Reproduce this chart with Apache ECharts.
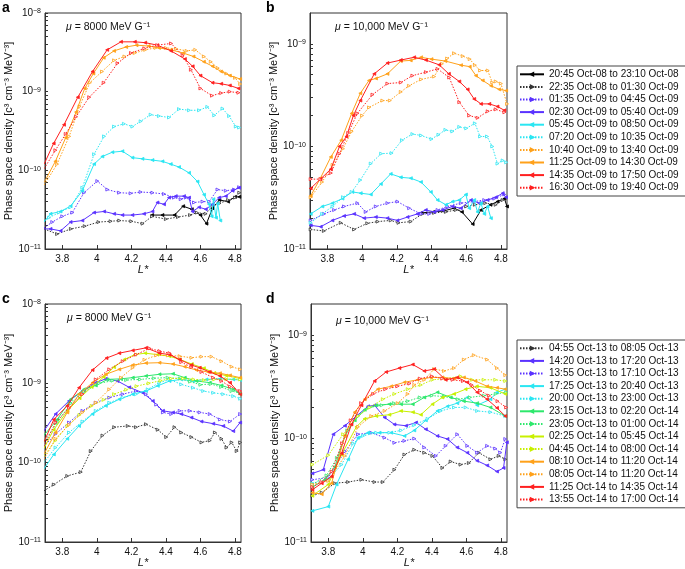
<!DOCTYPE html>
<html><head><meta charset="utf-8">
<script src="https://cdn.jsdelivr.net/npm/echarts@6/dist/echarts.min.js"></script>
<style>html,body{margin:0;padding:0;background:#fff}#c{width:685px;height:569px}</style>
</head><body><div id="c"></div>
<script>
// ---------------- Legend names ----------------
const TOP_NAMES = [
  '20:45 Oct-08 to 23:10 Oct-08','22:35 Oct-08 to 01:30 Oct-09','01:35 Oct-09 to 04:45 Oct-09',
  '02:30 Oct-09 to 05:40 Oct-09','05:45 Oct-09 to 08:50 Oct-09','07:20 Oct-09 to 10:35 Oct-09',
  '10:40 Oct-09 to 13:40 Oct-09','11:25 Oct-09 to 14:30 Oct-09','14:35 Oct-09 to 17:50 Oct-09',
  '16:30 Oct-09 to 19:40 Oct-09'];
const BOTTOM_NAMES = [
  '04:55 Oct-13 to 08:05 Oct-13','14:20 Oct-13 to 17:20 Oct-13','13:55 Oct-13 to 17:10 Oct-13',
  '17:25 Oct-13 to 20:40 Oct-13','20:00 Oct-13 to 23:00 Oct-13','23:15 Oct-13 to 02:20 Oct-14',
  '23:05 Oct-13 to 01:00 Oct-14','02:25 Oct-14 to 05:45 Oct-14','04:45 Oct-14 to 08:00 Oct-14',
  '08:10 Oct-14 to 11:20 Oct-14','08:05 Oct-14 to 11:20 Oct-14','11:25 Oct-14 to 14:35 Oct-14',
  '13:55 Oct-14 to 17:00 Oct-14'];

// ---------------- Axis tick values ----------------
const X_TICKS = [3.8, 4.0, 4.2, 4.4, 4.6, 4.8];

// ---------------- Panel a (mu = 8000, Oct 8-9) ----------------
const A_BLACK_SOLID = [[4.32,2.7e-11],[4.38,2.7e-11],[4.45,2.7e-11],[4.50,3.5e-11],[4.55,3.2e-11],[4.60,2.7e-11],[4.635,2.1e-11],[4.67,3.3e-11],[4.71,4.2e-11],[4.76,4.0e-11],[4.80,4.6e-11],[4.825,4.6e-11]];
const A_BLACK_DOT = [[3.695,1.8e-11],[3.77,1.55e-11],[3.85,1.8e-11],[3.93,1.95e-11],[4.01,2.2e-11],[4.08,2.25e-11],[4.13,2.3e-11],[4.20,2.25e-11],[4.265,2.1e-11],[4.32,2.6e-11],[4.40,2.4e-11],[4.47,2.55e-11],[4.54,2.7e-11],[4.58,2.9e-11],[4.63,2.8e-11],[4.67,3.5e-11],[4.71,3.8e-11],[4.76,4.2e-11],[4.80,4.5e-11],[4.825,5.2e-11]];
const A_BLUE_DOT = [[3.694,1.85e-11],[3.742,2.2e-11],[3.80,2.6e-11],[3.858,2.9e-11],[3.926,5.2e-11],[4.003,7.3e-11],[4.061,5.7e-11],[4.129,5.2e-11],[4.196,5.1e-11],[4.254,5.3e-11],[4.322,5.2e-11],[4.389,5.0e-11],[4.447,4.5e-11],[4.486,4.3e-11],[4.515,4.5e-11],[4.563,3.9e-11],[4.612,4.0e-11],[4.65,4.0e-11],[4.699,5.7e-11],[4.747,5.5e-11],[4.795,5.7e-11],[4.824,6.1e-11]];
const A_BLUE_SOLID = [[3.694,1.8e-11],[3.732,1.8e-11],[3.79,1.7e-11],[3.848,2.2e-11],[3.916,2.3e-11],[3.984,2.9e-11],[4.042,3.0e-11],[4.10,2.8e-11],[4.148,2.7e-11],[4.206,2.7e-11],[4.273,2.8e-11],[4.322,3.0e-11],[4.351,3.9e-11],[4.389,3.7e-11],[4.418,4.5e-11],[4.457,4.7e-11],[4.505,4.7e-11],[4.534,4.5e-11],[4.554,3.0e-11],[4.592,3.4e-11],[4.631,3.2e-11],[4.67,3.7e-11],[4.708,4.5e-11],[4.747,4.7e-11],[4.786,5.5e-11],[4.824,6.0e-11]];
const A_CYAN_SOLID = [[3.694,2.2e-11],[3.732,2.8e-11],[3.79,3.0e-11],[3.848,3.5e-11],[3.916,5.5e-11],[3.984,1.2e-10],[4.032,1.5e-10],[4.09,1.7e-10],[4.148,1.75e-10],[4.206,1.45e-10],[4.264,1.4e-10],[4.322,1.35e-10],[4.38,1.3e-10],[4.428,1.2e-10],[4.476,1.1e-10],[4.534,9.3e-11],[4.583,7.2e-11],[4.621,4.9e-11],[4.65,3.7e-11],[4.665,2.6e-11],[4.675,4.3e-11],[4.69,2.5e-11],[4.70,3.8e-11],[4.715,2.3e-11]];
const A_CYAN_DOT = [[3.694,2.3e-11],[3.723,2.5e-11],[3.78,2.9e-11],[3.848,3.4e-11],[3.916,6.0e-11],[3.984,1.6e-10],[4.042,2.7e-10],[4.10,3.6e-10],[4.157,3.9e-10],[4.206,3.6e-10],[4.254,4.2e-10],[4.312,5.1e-10],[4.36,4.9e-10],[4.418,4.7e-10],[4.476,6.0e-10],[4.534,5.8e-10],[4.592,5.8e-10],[4.64,6.4e-10],[4.68,5.0e-10],[4.728,6.1e-10],[4.766,4.9e-10],[4.805,3.6e-10],[4.824,3.5e-10]];
const A_ORANGE_DOT = [[3.695,6.5e-11],[3.77,1.2e-10],[3.84,2.7e-10],[3.90,6.5e-10],[3.96,1.3e-9],[4.03,1.8e-9],[4.10,2.5e-9],[4.16,2.8e-9],[4.22,3.1e-9],[4.28,3.4e-9],[4.34,3.6e-9],[4.40,3.6e-9],[4.46,3.5e-9],[4.52,3.3e-9],[4.57,3.4e-9],[4.62,2.8e-9],[4.66,2.4e-9],[4.70,2.0e-9],[4.75,1.7e-9],[4.80,1.5e-9],[4.83,1.25e-9]];
const A_ORANGE_SOLID = [[3.695,7.0e-11],[3.76,1.3e-10],[3.82,2.6e-10],[3.88,5.5e-10],[3.93,1.1e-9],[3.98,1.7e-9],[4.04,2.7e-9],[4.10,3.3e-9],[4.17,3.7e-9],[4.23,3.9e-9],[4.30,3.8e-9],[4.36,3.6e-9],[4.43,3.4e-9],[4.50,3.1e-9],[4.56,2.8e-9],[4.62,2.4e-9],[4.67,2.1e-9],[4.72,1.8e-9],[4.77,1.6e-9],[4.83,1.45e-9]];
const A_RED_SOLID = [[3.695,1.2e-10],[3.75,2.2e-10],[3.81,3.8e-10],[3.89,8.5e-10],[3.975,1.8e-9],[4.06,3.4e-9],[4.14,4.3e-9],[4.22,4.3e-9],[4.28,4.2e-9],[4.35,3.9e-9],[4.43,3.3e-9],[4.51,2.6e-9],[4.555,2.1e-9],[4.60,1.6e-9],[4.67,1.3e-9],[4.72,1.26e-9],[4.77,1.2e-9],[4.82,1.1e-9]];
const A_RED_DOT = [[3.695,1.05e-10],[3.76,1.8e-10],[3.82,2.9e-10],[3.88,4.8e-10],[3.956,8.5e-10],[4.04,1.3e-9],[4.12,2.3e-9],[4.198,3.1e-9],[4.275,3.55e-9],[4.35,3.9e-9],[4.43,4.1e-9],[4.497,2.9e-9],[4.545,1.9e-9],[4.60,1.1e-9],[4.667,8.9e-10],[4.72,9.6e-10],[4.77,1.0e-9],[4.82,9.7e-10]];

// ---------------- Panel b (mu = 10,000, Oct 8-9) ----------------
const B_BLACK_SOLID = [[4.34,2.25e-11],[4.41,2.3e-11],[4.47,2.35e-11],[4.53,2.5e-11],[4.575,2.3e-11],[4.637,1.75e-11],[4.685,2.4e-11],[4.74,2.7e-11],[4.78,2.9e-11],[4.82,3.1e-11],[4.835,2.6e-11]];
const B_BLACK_DOT = [[3.704,1.55e-11],[3.78,1.5e-11],[3.877,1.8e-11],[3.954,1.55e-11],[4.03,1.78e-11],[4.09,1.85e-11],[4.165,1.9e-11],[4.21,1.8e-11],[4.28,1.85e-11],[4.348,2.2e-11],[4.415,2.25e-11],[4.483,2.3e-11],[4.54,2.4e-11],[4.60,2.6e-11],[4.65,2.7e-11],[4.71,2.8e-11],[4.77,2.7e-11],[4.81,3.0e-11]];
const B_BLUE_DOT = [[3.704,1.9e-11],[3.781,2.2e-11],[3.839,2.4e-11],[3.896,2.6e-11],[3.973,2.8e-11],[4.021,2.3e-11],[4.079,2.6e-11],[4.146,2.8e-11],[4.204,2.9e-11],[4.271,2.5e-11],[4.339,2.2e-11],[4.387,2.2e-11],[4.435,2.4e-11],[4.492,2.6e-11],[4.569,2.8e-11],[4.646,2.9e-11],[4.704,3.0e-11],[4.762,3.1e-11],[4.819,3.4e-11]];
const B_BLUE_SOLID = [[3.704,1.7e-11],[3.762,1.65e-11],[3.829,1.9e-11],[3.896,2.1e-11],[3.954,2.2e-11],[4.012,2.0e-11],[4.079,2.05e-11],[4.146,2.0e-11],[4.204,1.9e-11],[4.262,2.05e-11],[4.319,2.2e-11],[4.367,2.4e-11],[4.416,2.3e-11],[4.464,2.4e-11],[4.521,2.6e-11],[4.569,2.5e-11],[4.627,3.0e-11],[4.675,2.8e-11],[4.723,3.0e-11],[4.771,3.2e-11],[4.81,3.5e-11],[4.829,3.2e-11]];
const B_CYAN_SOLID = [[3.704,2.2e-11],[3.771,2.6e-11],[3.829,2.8e-11],[3.887,3.1e-11],[3.944,3.6e-11],[3.992,3.5e-11],[4.05,3.4e-11],[4.108,4.3e-11],[4.165,5.4e-11],[4.223,5.0e-11],[4.281,4.9e-11],[4.339,4.5e-11],[4.396,3.6e-11],[4.435,3.0e-11],[4.483,2.7e-11],[4.521,2.9e-11],[4.56,3.0e-11],[4.598,3.4e-11],[4.617,2.5e-11],[4.646,3.0e-11],[4.665,2.3e-11],[4.685,2.8e-11],[4.704,2.2e-11],[4.723,2.6e-11],[4.742,2.0e-11]];
const B_CYAN_DOT = [[3.704,1.8e-11],[3.77,2.2e-11],[3.83,2.6e-11],[3.89,3.2e-11],[3.94,3.6e-11],[3.99,4.7e-11],[4.05,6.8e-11],[4.11,8.5e-11],[4.17,8.6e-11],[4.23,1.15e-10],[4.29,1.32e-10],[4.34,1.28e-10],[4.40,1.18e-10],[4.44,1.3e-10],[4.48,1.45e-10],[4.52,1.4e-10],[4.56,1.55e-10],[4.60,1.5e-10],[4.65,1.68e-10],[4.68,1.25e-10],[4.72,1.25e-10],[4.75,1.0e-10],[4.78,6.8e-11],[4.81,7.3e-11],[4.83,7.0e-11]];
const B_ORANGE_DOT = [[3.704,3.2e-11],[3.77,4.5e-11],[3.83,6.6e-11],[3.89,9.5e-11],[3.94,1.4e-10],[4.0,2.0e-10],[4.04,2.4e-10],[4.117,2.8e-10],[4.16,2.8e-10],[4.223,3.4e-10],[4.27,3.9e-10],[4.34,4.5e-10],[4.415,4.8e-10],[4.46,6.4e-10],[4.49,7.2e-10],[4.53,8.1e-10],[4.58,7.6e-10],[4.62,7.1e-10],[4.65,6.2e-10],[4.68,5.5e-10],[4.724,5.5e-10],[4.75,4.2e-10],[4.77,4.3e-10],[4.80,4.1e-10],[4.835,2.6e-10]];
const B_ORANGE_SOLID = [[3.704,3.3e-11],[3.76,4.9e-11],[3.82,7.9e-11],[3.88,1.15e-10],[3.94,2.1e-10],[3.99,3.3e-10],[4.04,4.4e-10],[4.08,4.6e-10],[4.146,5.1e-10],[4.223,6.8e-10],[4.28,6.9e-10],[4.34,7.4e-10],[4.40,7.1e-10],[4.48,6.8e-10],[4.57,6.2e-10],[4.62,6.0e-10],[4.656,4.9e-10],[4.695,4.4e-10],[4.743,3.9e-10],[4.79,3.6e-10],[4.83,3.5e-10]];
const B_RED_SOLID = [[3.704,3.9e-11],[3.76,4.8e-11],[3.82,6.0e-11],[3.87,1.0e-10],[3.91,1.25e-10],[3.95,2.0e-10],[3.99,2.8e-10],[4.07,5.1e-10],[4.146,6.5e-10],[4.223,6.95e-10],[4.30,7.4e-10],[4.368,6.95e-10],[4.444,6.25e-10],[4.50,5.1e-10],[4.56,4.3e-10],[4.608,3.6e-10],[4.646,2.9e-10],[4.685,2.6e-10],[4.733,2.6e-10],[4.78,2.45e-10],[4.82,2.25e-10]];
const B_RED_DOT = [[3.704,4.8e-11],[3.76,4.8e-11],[3.82,5.5e-11],[3.87,8.5e-11],[3.92,1.35e-10],[3.973,2.1e-10],[4.06,3.2e-10],[4.146,4.1e-10],[4.223,4.2e-10],[4.29,4.9e-10],[4.368,5.3e-10],[4.435,5.7e-10],[4.502,4.7e-10],[4.56,2.7e-10],[4.617,2.0e-10],[4.666,1.9e-10],[4.724,2.2e-10],[4.77,2.3e-10],[4.82,2.15e-10]];

// ---------------- Panel c (mu = 8000, Oct 13-14) ----------------
const C_BLACK_DOT = [[3.693,4.4e-11],[3.751,5.3e-11],[3.829,6.8e-11],[3.907,7.6e-11],[3.965,1.4e-10],[4.033,2.2e-10],[4.101,2.8e-10],[4.179,2.9e-10],[4.227,2.8e-10],[4.285,3.05e-10],[4.353,2.6e-10],[4.402,2.1e-10],[4.45,2.8e-10],[4.489,2.4e-10],[4.548,2.1e-10],[4.606,1.8e-10],[4.654,1.9e-10],[4.684,2.4e-10],[4.722,2.0e-10],[4.751,1.55e-10],[4.781,1.8e-10],[4.81,1.4e-10],[4.83,1.8e-10]];
const C_BLUE_SOLID = [[3.693,2.5e-10],[3.761,4.1e-10],[3.839,6.0e-10],[3.917,8.0e-10],[3.994,1.02e-9],[4.052,1.14e-9],[4.12,1.07e-9],[4.188,8.9e-10],[4.266,7.6e-10],[4.324,6.0e-10],[4.383,4.5e-10],[4.441,4.3e-10],[4.489,4.1e-10],[4.548,3.7e-10],[4.606,3.3e-10],[4.674,3.1e-10],[4.732,2.9e-10],[4.79,2.5e-10],[4.83,3.2e-10]];
const C_BLUE_DOT = [[3.693,1.6e-10],[3.761,2.3e-10],[3.839,3.2e-10],[3.917,4.5e-10],[3.994,5.7e-10],[4.072,6.6e-10],[4.15,7.3e-10],[4.227,8.0e-10],[4.285,7.3e-10],[4.344,5.4e-10],[4.383,4.3e-10],[4.431,4.1e-10],[4.48,4.5e-10],[4.538,4.5e-10],[4.596,4.3e-10],[4.654,4.1e-10],[4.713,3.5e-10],[4.771,3.3e-10],[4.83,4.1e-10]];
const C_CYAN_SOLID = [[3.693,8.3e-11],[3.751,1.27e-10],[3.829,2.0e-10],[3.897,2.9e-10],[3.975,4.1e-10],[4.052,5.2e-10],[4.13,6.3e-10],[4.208,7.3e-10],[4.285,8.0e-10],[4.353,9.3e-10],[4.421,1.07e-9],[4.489,1.12e-9],[4.557,1.07e-9],[4.635,1.12e-9],[4.713,1.14e-9],[4.79,1.12e-9],[4.83,1.1e-9]];
const C_CYAN_DOT = [[3.693,1.0e-10],[3.761,1.55e-10],[3.839,2.4e-10],[3.917,3.3e-10],[3.994,4.5e-10],[4.072,5.7e-10],[4.15,6.6e-10],[4.227,7.3e-10],[4.295,8.4e-10],[4.363,1.02e-9],[4.421,1.12e-9],[4.489,9.7e-10],[4.557,8.8e-10],[4.616,8.0e-10],[4.674,7.6e-10],[4.732,7.3e-10],[4.79,6.9e-10],[4.83,6.4e-10]];
const C_GREEN_SOLID = [[3.693,2.2e-10],[3.771,3.5e-10],[3.849,6.3e-10],[3.926,8.4e-10],[3.994,9.4e-10],[4.062,1.12e-9],[4.14,1.14e-9],[4.208,1.18e-9],[4.285,1.24e-9],[4.363,1.3e-9],[4.441,1.32e-9],[4.509,1.18e-9],[4.577,1.07e-9],[4.654,1.02e-9],[4.722,9.4e-10],[4.79,8.4e-10],[4.83,7.3e-10]];
const C_GREEN_DOT = [[3.693,1.8e-10],[3.771,3.2e-10],[3.849,5.6e-10],[3.926,7.8e-10],[4.014,1.0e-9],[4.091,1.08e-9],[4.17,1.1e-9],[4.25,1.12e-9],[4.33,1.16e-9],[4.41,1.18e-9],[4.48,1.15e-9],[4.54,1.05e-9],[4.60,9.6e-10],[4.66,9.8e-10],[4.72,9.0e-10],[4.78,8.0e-10],[4.83,7.5e-10]];
const C_YELLOW_SOLID = [[3.693,1.5e-10],[3.75,2.6e-10],[3.83,4.5e-10],[3.90,6.5e-10],[3.97,9.0e-10],[4.04,1.2e-9],[4.10,1.6e-9],[4.16,2.0e-9],[4.22,2.3e-9],[4.28,2.4e-9],[4.35,2.3e-9],[4.42,2.2e-9],[4.48,2.0e-9],[4.55,1.75e-9],[4.62,1.55e-9],[4.68,1.35e-9],[4.75,1.25e-9],[4.83,1.15e-9]];
const C_YELLOW_DOT = [[3.693,1.2e-10],[3.76,1.9e-10],[3.83,2.9e-10],[3.90,4.0e-10],[3.97,5.2e-10],[4.04,6.2e-10],[4.10,7.3e-10],[4.17,8.3e-10],[4.23,9.2e-10],[4.30,1.0e-9],[4.37,1.08e-9],[4.43,1.15e-9],[4.50,1.15e-9],[4.56,1.12e-9],[4.62,1.1e-9],[4.68,1.12e-9],[4.75,1.13e-9],[4.83,1.12e-9]];
const C_ORANGE_SOLID = [[3.693,1.27e-10],[3.761,2.4e-10],[3.829,4.3e-10],[3.897,7.3e-10],[3.975,1.02e-9],[4.052,1.3e-9],[4.13,1.5e-9],[4.208,1.7e-9],[4.285,1.8e-9],[4.363,1.82e-9],[4.441,1.75e-9],[4.509,1.62e-9],[4.577,1.47e-9],[4.645,1.39e-9],[4.713,1.34e-9],[4.771,1.26e-9],[4.83,1.18e-9]];
const C_ORANGE_DOT = [[3.693,1.1e-10],[3.761,2.0e-10],[3.839,3.0e-10],[3.917,4.3e-10],[3.994,5.7e-10],[4.072,8.4e-10],[4.14,1.18e-9],[4.208,1.57e-9],[4.276,1.98e-9],[4.344,2.25e-9],[4.412,2.25e-9],[4.48,2.2e-9],[4.548,2.1e-9],[4.606,2.17e-9],[4.664,2.17e-9],[4.722,1.9e-9],[4.781,1.62e-9],[4.83,1.5e-9]];
const C_RED_SOLID = [[3.693,1.8e-10],[3.751,3.5e-10],[3.829,5.2e-10],[3.897,8.8e-10],[3.975,1.47e-9],[4.056,2.08e-9],[4.13,2.4e-9],[4.208,2.6e-9],[4.285,2.8e-9],[4.363,2.4e-9],[4.421,2.3e-9],[4.48,2.0e-9],[4.548,1.7e-9],[4.596,1.57e-9],[4.654,1.39e-9],[4.713,1.24e-9],[4.771,1.02e-9],[4.83,7.3e-10]];
const C_RED_DOT = [[3.693,1.6e-10],[3.761,3.2e-10],[3.839,4.9e-10],[3.917,7.3e-10],[3.994,1.12e-9],[4.072,1.5e-9],[4.15,1.9e-9],[4.227,2.3e-9],[4.305,2.76e-9],[4.363,2.55e-9],[4.421,2.4e-9],[4.489,1.85e-9],[4.548,1.6e-9],[4.606,1.39e-9],[4.674,1.18e-9],[4.722,1.07e-9],[4.771,9.1e-10],[4.83,8.0e-10]];

// ---------------- Panel d (mu = 10,000, Oct 13-14) ----------------
const D_BLACK_DOT = [[3.708,2.8e-11],[3.762,3.0e-11],[3.838,3.7e-11],[3.915,3.8e-11],[3.992,4.0e-11],[4.068,3.8e-11],[4.116,3.8e-11],[4.183,5.0e-11],[4.241,7.0e-11],[4.298,7.8e-11],[4.356,7.3e-11],[4.403,6.8e-11],[4.461,5.2e-11],[4.509,6.0e-11],[4.566,5.6e-11],[4.614,5.8e-11],[4.672,7.3e-11],[4.739,6.3e-11],[4.787,6.8e-11],[4.825,6.3e-11]];
const D_BLUE_SOLID = [[3.708,4.6e-11],[3.771,5.0e-11],[3.829,1.1e-10],[3.896,1.33e-10],[3.963,1.65e-10],[4.03,2.05e-10],[4.068,2.1e-10],[4.126,1.6e-10],[4.183,1.37e-10],[4.25,1.33e-10],[4.308,1.43e-10],[4.365,1.23e-10],[4.432,1.06e-10],[4.49,9.9e-11],[4.547,8.2e-11],[4.605,7.3e-11],[4.662,6.1e-11],[4.72,5.5e-11],[4.777,4.8e-11],[4.815,5.2e-11],[4.834,9.2e-11]];
const D_BLUE_DOT = [[3.708,4.0e-11],[3.80,4.2e-11],[3.896,7.5e-11],[3.972,1.1e-10],[4.049,1.14e-10],[4.126,1.02e-10],[4.183,9.1e-11],[4.241,9.5e-11],[4.298,1.0e-10],[4.356,8.2e-11],[4.423,6.8e-11],[4.48,8.5e-11],[4.547,1.1e-10],[4.605,8.5e-11],[4.662,7.3e-11],[4.72,8.5e-11],[4.767,8.0e-11],[4.796,7.3e-11],[4.825,9.9e-11]];
const D_CYAN_SOLID = [[3.708,2.0e-11],[3.80,2.2e-11],[3.848,3.6e-11],[3.915,6.3e-11],[3.972,1.02e-10],[4.03,1.14e-10],[4.097,1.14e-10],[4.164,1.14e-10],[4.241,1.06e-10],[4.298,1.2e-10],[4.365,1.5e-10],[4.432,1.85e-10],[4.49,2.05e-10],[4.547,2.2e-10],[4.605,2.5e-10],[4.662,2.1e-10],[4.739,2.4e-10],[4.777,2.8e-10],[4.825,3.0e-10]];
const D_CYAN_DOT = [[3.708,3.7e-11],[3.80,4.0e-11],[3.877,5.6e-11],[3.944,9.0e-11],[4.001,1.06e-10],[4.078,1.14e-10],[4.154,1.14e-10],[4.221,1.2e-10],[4.298,1.35e-10],[4.375,1.55e-10],[4.451,1.85e-10],[4.528,2.0e-10],[4.595,2.0e-10],[4.662,1.85e-10],[4.739,1.8e-10],[4.825,1.65e-10]];
const D_GREEN_SOLID = [[3.708,3.4e-11],[3.781,4.0e-11],[3.838,5.3e-11],[3.896,1.06e-10],[3.953,1.5e-10],[4.011,1.9e-10],[4.078,2.1e-10],[4.154,2.15e-10],[4.221,2.15e-10],[4.289,2.15e-10],[4.356,2.5e-10],[4.432,2.8e-10],[4.509,2.5e-10],[4.585,2.3e-10],[4.662,2.2e-10],[4.739,2.0e-10],[4.825,1.65e-10]];
const D_GREEN_DOT = [[3.708,3.6e-11],[3.79,4.4e-11],[3.85,6.5e-11],[3.91,1.2e-10],[3.97,1.65e-10],[4.04,2.0e-10],[4.11,2.1e-10],[4.18,2.2e-10],[4.26,2.3e-10],[4.33,2.5e-10],[4.40,2.6e-10],[4.47,2.55e-10],[4.55,2.4e-10],[4.62,2.5e-10],[4.70,2.6e-10],[4.77,2.7e-10],[4.83,2.8e-10]];
const D_YELLOW_SOLID = [[3.708,2.8e-11],[3.80,3.6e-11],[3.877,7.0e-11],[3.963,1.3e-10],[4.01,1.55e-10],[4.078,1.65e-10],[4.154,1.7e-10],[4.221,1.85e-10],[4.29,1.8e-10],[4.336,1.7e-10],[4.403,2.15e-10],[4.461,2.5e-10],[4.528,2.7e-10],[4.595,3.0e-10],[4.66,3.2e-10],[4.739,3.1e-10],[4.825,2.7e-10]];
const D_YELLOW_DOT = [[3.708,5.6e-11],[3.80,6.9e-11],[3.886,1.1e-10],[3.972,1.65e-10],[4.039,2.0e-10],[4.116,2.4e-10],[4.183,2.7e-10],[4.26,3.0e-10],[4.336,3.3e-10],[4.403,3.7e-10],[4.48,3.8e-10],[4.566,4.0e-10],[4.633,3.7e-10],[4.70,3.7e-10],[4.767,3.7e-10],[4.825,3.6e-10]];
const D_ORANGE_SOLID = [[3.708,3.0e-11],[3.762,2.9e-11],[3.819,3.7e-11],[3.896,1.06e-10],[3.953,1.8e-10],[4.011,2.4e-10],[4.087,3.0e-10],[4.164,3.2e-10],[4.241,3.5e-10],[4.317,3.7e-10],[4.394,3.9e-10],[4.461,3.9e-10],[4.528,3.8e-10],[4.585,3.9e-10],[4.652,3.6e-10],[4.72,3.2e-10],[4.777,3.1e-10],[4.825,3.0e-10]];
const D_ORANGE_DOT = [[3.708,3.6e-11],[3.80,3.9e-11],[3.896,6.8e-11],[3.972,1.3e-10],[4.049,1.65e-10],[4.126,1.85e-10],[4.202,2.2e-10],[4.26,2.7e-10],[4.298,3.3e-10],[4.356,3.7e-10],[4.413,4.7e-10],[4.47,4.5e-10],[4.528,4.8e-10],[4.585,5.8e-10],[4.643,6.4e-10],[4.72,5.8e-10],[4.777,4.8e-10],[4.825,4.1e-10]];
const D_RED_SOLID = [[3.708,3.2e-11],[3.762,3.7e-11],[3.819,4.3e-11],[3.877,7.2e-11],[3.934,1.37e-10],[3.992,2.1e-10],[4.068,3.6e-10],[4.135,4.4e-10],[4.212,4.8e-10],[4.289,5.2e-10],[4.356,4.5e-10],[4.413,4.7e-10],[4.48,3.7e-10],[4.547,3.9e-10],[4.605,3.5e-10],[4.662,2.8e-10],[4.72,2.4e-10],[4.777,1.98e-10],[4.825,1.65e-10]];
const D_RED_DOT = [[3.708,3.4e-11],[3.76,3.8e-11],[3.82,4.8e-11],[3.88,9.0e-11],[3.93,1.5e-10],[3.99,2.2e-10],[4.06,2.7e-10],[4.13,3.0e-10],[4.20,3.2e-10],[4.27,3.4e-10],[4.33,3.8e-10],[4.40,4.0e-10],[4.46,3.8e-10],[4.52,3.7e-10],[4.58,3.6e-10],[4.63,3.3e-10],[4.68,2.9e-10],[4.73,2.6e-10],[4.78,2.3e-10],[4.83,2.0e-10]];

// ---------------- Styles ----------------
const C_BLACK = '#000000', C_GRAY = '#333333', C_BLUE = '#5a32ff', C_CYAN = '#2ae6f2',
      C_ORANGE = '#ffa11a', C_RED = '#ff2020', C_GREEN = '#2de86c', C_YEL = '#c8f000';
const TOP_STYLE = [[C_BLACK,false],[C_GRAY,true],[C_BLUE,true],[C_BLUE,false],[C_CYAN,false],
  [C_CYAN,true],[C_ORANGE,true],[C_ORANGE,false],[C_RED,false],[C_RED,true]];
const BOTTOM_STYLE = [[C_GRAY,true],[C_BLUE,false],[C_BLUE,true],[C_CYAN,false],[C_CYAN,true],
  [C_GREEN,false],[C_GREEN,true],[C_YEL,false],[C_YEL,true],[C_ORANGE,false],[C_ORANGE,true],
  [C_RED,false],[C_RED,true]];

const PANEL_A = [A_BLACK_SOLID,A_BLACK_DOT,A_BLUE_DOT,A_BLUE_SOLID,A_CYAN_SOLID,A_CYAN_DOT,A_ORANGE_DOT,A_ORANGE_SOLID,A_RED_SOLID,A_RED_DOT];
const PANEL_B = [B_BLACK_SOLID,B_BLACK_DOT,B_BLUE_DOT,B_BLUE_SOLID,B_CYAN_SOLID,B_CYAN_DOT,B_ORANGE_DOT,B_ORANGE_SOLID,B_RED_SOLID,B_RED_DOT];
const PANEL_C = [C_BLACK_DOT,C_BLUE_SOLID,C_BLUE_DOT,C_CYAN_SOLID,C_CYAN_DOT,C_GREEN_SOLID,C_GREEN_DOT,C_YELLOW_SOLID,C_YELLOW_DOT,C_ORANGE_SOLID,C_ORANGE_DOT,C_RED_SOLID,C_RED_DOT];
const PANEL_D = [D_BLACK_DOT,D_BLUE_SOLID,D_BLUE_DOT,D_CYAN_SOLID,D_CYAN_DOT,D_GREEN_SOLID,D_GREEN_DOT,D_YELLOW_SOLID,D_YELLOW_DOT,D_ORANGE_SOLID,D_ORANGE_DOT,D_RED_SOLID,D_RED_DOT];

const FONT = "'Liberation Sans', Arial, Helvetica, sans-serif";
const AXIS_COLOR = '#333';

const MINOR_TICKS = [];
for (let e = -11; e <= -9; e++) for (let k = 1; k <= 9; k++) MINOR_TICKS.push(k * Math.pow(10, e));
MINOR_TICKS.push(1e-8);

const GRIDS = [
  {left: 45, top: 13, width: 196, height: 236},
  {left: 310, top: 13, width: 197, height: 236},
  {left: 45, top: 304, width: 196, height: 238},
  {left: 311, top: 304, width: 196, height: 238}
];
const Y_MAX = [1e-8, 2e-9, 1e-8, 2e-9];

function supLabel(v) {
  const e = Math.round(Math.log10(v));
  return '{b|10}{s|' + (e < 0 ? '\u2212' : '') + Math.abs(e) + '}';
}

const xAxes = GRIDS.map((g, i) => ({
  type: 'value', gridIndex: i, min: 3.7, max: 4.835,
  name: 'L*', nameLocation: 'middle', nameGap: 15,
  nameTextStyle: {fontFamily: FONT, fontStyle: 'italic', fontSize: 11, color: '#111'},
  axisLine: {show: true, lineStyle: {color: AXIS_COLOR, width: 1}},
  axisTick: {show: true, inside: true, length: 4, customValues: X_TICKS, lineStyle: {color: AXIS_COLOR}},
  axisLabel: {show: true, customValues: X_TICKS, margin: 5, fontFamily: FONT, fontSize: 10, color: '#111',
    formatter: v => String(Math.round(v * 10) / 10)},
  splitLine: {show: false}
}));

const yAxes = GRIDS.map((g, i) => ({
  type: 'log', logBase: 10, gridIndex: i, min: 1e-11, max: Y_MAX[i],
  name: 'Phase space density [c\u00B3 cm\u207B\u00B3 MeV\u207B\u00B3]',
  nameLocation: 'middle', nameGap: 26, nameRotate: 90,
  nameTextStyle: {fontFamily: FONT, fontSize: 11, color: '#111'},
  axisLine: {show: true, lineStyle: {color: AXIS_COLOR, width: 1}},
  axisTick: {show: true, inside: true, length: 3, customValues: MINOR_TICKS, lineStyle: {color: AXIS_COLOR}},
  axisLabel: {show: true, margin: 4, showMaxLabel: Y_MAX[i] === 1e-8, formatter: supLabel,
    rich: {
      b: {fontFamily: FONT, fontSize: 10, color: '#111', verticalAlign: 'bottom', lineHeight: 10},
      s: {fontFamily: FONT, fontSize: 7, color: '#111', verticalAlign: 'top', lineHeight: 7, padding: [0, 0, 5, 0]}
    }},
  splitLine: {show: false}
}));

const series = [];
function addPanel(panelData, names, styles, idx) {
  panelData.forEach((d, k) => {
    const [color, dotted] = styles[k];
    series.push({
      type: 'line', name: names[k], xAxisIndex: idx, yAxisIndex: idx, data: d,
      symbol: 'triangle', symbolRotate: dotted ? -90 : 90, symbolSize: 3,
      showSymbol: true,
      lineStyle: {color: color, width: 1, type: dotted ? [1.5, 1.5] : 'solid'},
      itemStyle: {color: dotted ? '#ffffff' : color, borderColor: color, borderWidth: 0.8},
      emphasis: {disabled: true}, animation: false, z: 2 + k
    });
  });
}
addPanel(PANEL_A, TOP_NAMES, TOP_STYLE, 0);
addPanel(PANEL_B, TOP_NAMES, TOP_STYLE, 1);
addPanel(PANEL_C, BOTTOM_NAMES, BOTTOM_STYLE, 2);
addPanel(PANEL_D, BOTTOM_NAMES, BOTTOM_STYLE, 3);

const legendCommon = {
  orient: 'vertical', left: 517, itemWidth: 24, itemHeight: 3, itemGap: 0,
  padding: [2, 7, 2, 2], borderColor: '#444', borderWidth: 1, backgroundColor: '#fff',
  textStyle: {fontFamily: FONT, fontSize: 10, color: '#111', lineHeight: 12.6},
  selectedMode: false
};

const mu = (x, y, val) => ({
  type: 'text', left: x, top: y,
  style: {text: '{i|\u03BC} = ' + val + ' MeV G\u207B\u00B9', fontFamily: FONT, fontSize: 10.5, fill: '#111',
    rich: {i: {fontFamily: FONT, fontStyle: 'italic', fontSize: 10.5, fill: '#111'}}}
});
const letter = (x, y, t) => ({
  type: 'text', left: x, top: y,
  style: {text: t, fontFamily: FONT, fontSize: 14, fontWeight: 'bold', fill: '#000'}
});

const option = {
  backgroundColor: '#fff',
  animation: false,
  grid: GRIDS.map(g => Object.assign({show: true, borderColor: AXIS_COLOR, borderWidth: 1, containLabel: false, outerBoundsMode: 'none'}, g)),
  xAxis: xAxes,
  yAxis: yAxes,
  legend: [
    Object.assign({top: 66, data: TOP_NAMES}, legendCommon),
    Object.assign({top: 340, data: BOTTOM_NAMES}, legendCommon)
  ],
  graphic: [
    letter(2, 1, 'a'), letter(266, 1, 'b'), letter(2, 292, 'c'), letter(266, 292, 'd'),
    mu(66, 22, '8000'), mu(335, 22, '10,000'), mu(67, 313, '8000'), mu(336, 316, '10,000')
  ],
  series: series
};

const chart = echarts.init(document.getElementById('c'), null, {renderer: 'canvas'});
chart.setOption(option);
</script></body></html>
